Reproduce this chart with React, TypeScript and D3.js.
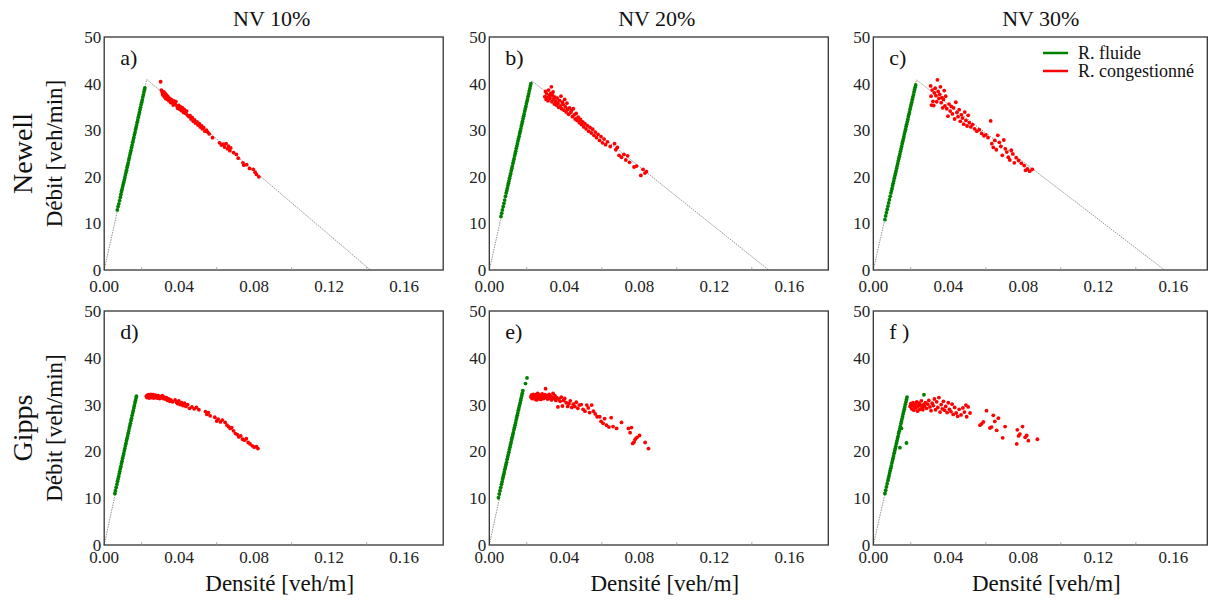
import React from "react";
import * as d3 from "d3";

type Pt = [number, number];

const columnTitles = ["NV 10%", "NV 20%", "NV 30%"];
const rowModels = ["Newell", "Gipps"];
const panelLetters = ["a)", "b)", "c)", "d)", "e)", "f )"];
const xTicks = [0, 0.04, 0.08, 0.12, 0.16];
const xTickLabels = ["0.00", "0.04", "0.08", "0.12", "0.16"];
const xMinorTicks = [0.02, 0.06, 0.1, 0.14];
const yTicks = [0, 10, 20, 30, 40, 50];
const legendLabels = ["R. fluide", "R. congestionné"];
const yLabel = "Débit [veh/min]";
const xLabel = "Densité [veh/m]";

// fundamental diagram (triangle) vertices [density, flow]
const newellFD10: Pt[] = [[0, 0], [0.0227, 40.9], [0.142, 0]];
const newellFD20: Pt[] = [[0, 0], [0.0227, 40.6], [0.149, 0]];
const newellFD30: Pt[] = [[0, 0], [0.023, 40.8], [0.1553, 0]];
const gippsFD10: Pt[] = [[0, 0], [0.0172, 31.8]];
const gippsFD20: Pt[] = [[0, 0], [0.0179, 33.0]];
const gippsFD30: Pt[] = [[0, 0], [0.018, 31.6]];

// ---- Newell 10% ----
const newell10Fluid: Pt[] = [[0.0070,12.9],[0.0074,13.6],[0.0078,14.2],[0.0082,14.9],[0.0086,15.6],[0.0089,16.2],[0.0092,16.8],[0.0095,17.3],[0.0098,17.8],[0.0101,18.3],[0.0104,18.8],[0.0107,19.3],[0.0110,19.8],[0.0113,20.4],[0.0116,20.9],[0.0119,21.4],[0.0122,22.0],[0.0125,22.5],[0.0128,23.0],[0.0131,23.6],[0.0134,24.1],[0.0137,24.7],[0.0140,25.2],[0.0143,25.7],[0.0146,26.3],[0.0149,26.8],[0.0152,27.4],[0.0155,27.9],[0.0158,28.4],[0.0161,29.0],[0.0164,29.5],[0.0167,30.1],[0.0170,30.6],[0.0173,31.1],[0.0176,31.7],[0.0179,32.2],[0.0182,32.8],[0.0185,33.3],[0.0188,33.8],[0.0191,34.4],[0.0194,34.9],[0.0197,35.5],[0.0200,36.0],[0.0203,36.5],[0.0206,37.1],[0.0209,37.6],[0.0212,38.2],[0.0215,38.7],[0.0217,39.1]];
const newell10Cong: Pt[] = [[0.0301,40.4],[0.0305,38.6],[0.0310,38.1],[0.0312,37.6],[0.0318,38.2],[0.0320,37.2],[0.0325,37.9],[0.0328,36.8],[0.0333,37.5],[0.0337,36.6],[0.0340,37.2],[0.0345,36.3],[0.0350,36.8],[0.0355,35.9],[0.0360,36.5],[0.0365,36.0],[0.0368,35.4],[0.0372,36.3],[0.0378,35.6],[0.0382,36.1],[0.0388,35.2],[0.0392,34.7],[0.0398,35.3],[0.0403,34.5],[0.0408,35.0],[0.0412,34.2],[0.0418,34.8],[0.0423,33.8],[0.0428,34.4],[0.0435,33.6],[0.0440,34.1],[0.0445,33.2],[0.0452,32.9],[0.0458,33.1],[0.0463,32.4],[0.0470,32.7],[0.0475,31.9],[0.0482,32.2],[0.0488,31.5],[0.0495,31.8],[0.0500,31.1],[0.0507,31.4],[0.0512,30.7],[0.0518,31.0],[0.0523,30.3],[0.0530,30.6],[0.0537,29.8],[0.0545,30.0],[0.0552,29.6],[0.0560,29.2],[0.0578,28.4],[0.0615,27.3],[0.0625,26.8],[0.0635,27.0],[0.0642,26.4],[0.0650,27.1],[0.0657,26.0],[0.0663,26.6],[0.0670,25.6],[0.0675,26.2],[0.0690,25.2],[0.0705,24.8],[0.0715,24.0],[0.0740,23.0],[0.0745,22.5],[0.0760,22.6],[0.0775,21.8],[0.0795,21.6],[0.0805,21.0],[0.0812,20.5],[0.0825,20.0]];

// ---- Newell 20% ----
const newell20Fluid: Pt[] = [[0.0062,11.5],[0.0066,12.2],[0.0070,12.9],[0.0074,13.6],[0.0078,14.3],[0.0082,15.0],[0.0086,15.8],[0.0090,16.5],[0.0093,17.0],[0.0096,17.5],[0.0099,18.1],[0.0102,18.6],[0.0105,19.1],[0.0108,19.7],[0.0111,20.2],[0.0114,20.7],[0.0117,21.3],[0.0120,21.8],[0.0123,22.3],[0.0126,22.9],[0.0129,23.4],[0.0132,23.9],[0.0135,24.5],[0.0138,25.0],[0.0141,25.5],[0.0144,26.1],[0.0147,26.6],[0.0150,27.1],[0.0153,27.7],[0.0156,28.2],[0.0159,28.7],[0.0162,29.3],[0.0165,29.8],[0.0168,30.3],[0.0171,30.9],[0.0174,31.4],[0.0177,31.9],[0.0180,32.5],[0.0183,33.0],[0.0186,33.5],[0.0189,34.1],[0.0192,34.6],[0.0195,35.1],[0.0198,35.7],[0.0201,36.2],[0.0204,36.7],[0.0207,37.3],[0.0210,37.8],[0.0213,38.4],[0.0216,38.9],[0.0219,39.5],[0.0222,40.0]];
const newell20Cong: Pt[] = [[0.0296,37.2],[0.0300,38.3],[0.0303,36.6],[0.0306,37.8],[0.0310,37.0],[0.0313,36.3],[0.0316,38.6],[0.0320,37.4],[0.0324,36.8],[0.0328,37.9],[0.0331,39.3],[0.0334,36.1],[0.0337,37.5],[0.0340,38.2],[0.0344,36.7],[0.0347,35.6],[0.0350,37.1],[0.0354,36.2],[0.0358,35.4],[0.0362,36.9],[0.0366,35.8],[0.0370,34.9],[0.0374,36.4],[0.0378,35.2],[0.0382,37.3],[0.0386,34.6],[0.0390,36.0],[0.0394,35.5],[0.0398,34.3],[0.0402,36.6],[0.0406,35.0],[0.0410,33.9],[0.0414,35.8],[0.0418,34.5],[0.0423,33.4],[0.0428,34.8],[0.0433,33.8],[0.0438,34.2],[0.0443,32.9],[0.0448,34.6],[0.0453,33.3],[0.0458,32.4],[0.0463,33.6],[0.0468,32.1],[0.0474,32.8],[0.0480,31.6],[0.0486,32.3],[0.0492,31.2],[0.0498,31.8],[0.0504,30.7],[0.0510,31.4],[0.0516,30.3],[0.0523,31.0],[0.0530,29.8],[0.0537,30.6],[0.0544,29.4],[0.0551,30.2],[0.0558,28.9],[0.0565,29.6],[0.0572,28.4],[0.0580,29.1],[0.0588,27.8],[0.0596,28.6],[0.0604,27.3],[0.0612,28.1],[0.0620,26.9],[0.0630,27.5],[0.0645,26.5],[0.0668,27.1],[0.0675,25.8],[0.0683,26.3],[0.0692,24.6],[0.0705,24.2],[0.0718,24.8],[0.0728,23.6],[0.0738,24.5],[0.0748,23.1],[0.0772,22.1],[0.0785,22.3],[0.0808,20.3],[0.0820,21.6],[0.0830,20.8],[0.0838,21.1]];

// ---- Newell 30% ----
const newell30Fluid: Pt[] = [[0.0062,10.8],[0.0066,11.6],[0.0070,12.3],[0.0074,13.0],[0.0078,13.7],[0.0082,14.4],[0.0086,15.1],[0.0090,15.8],[0.0094,16.5],[0.0097,17.0],[0.0100,17.5],[0.0103,18.1],[0.0106,18.6],[0.0109,19.1],[0.0112,19.7],[0.0115,20.2],[0.0118,20.7],[0.0121,21.2],[0.0124,21.8],[0.0127,22.3],[0.0130,22.8],[0.0133,23.4],[0.0136,23.9],[0.0139,24.4],[0.0142,24.9],[0.0145,25.5],[0.0148,26.0],[0.0151,26.5],[0.0154,27.1],[0.0157,27.6],[0.0160,28.1],[0.0163,28.6],[0.0166,29.2],[0.0169,29.7],[0.0172,30.2],[0.0175,30.8],[0.0178,31.3],[0.0181,31.8],[0.0184,32.3],[0.0187,32.9],[0.0190,33.4],[0.0193,33.9],[0.0196,34.5],[0.0199,35.0],[0.0202,35.5],[0.0205,36.0],[0.0208,36.6],[0.0211,37.1],[0.0214,37.6],[0.0217,38.2],[0.0220,38.7],[0.0223,39.2],[0.0226,39.7]];
const newell30Cong: Pt[] = [[0.0306,39.5],[0.0308,37.3],[0.0310,35.4],[0.0314,38.6],[0.0318,36.2],[0.0322,35.3],[0.0326,38.0],[0.0330,39.0],[0.0334,37.4],[0.0338,36.1],[0.0342,40.8],[0.0346,38.3],[0.0350,36.8],[0.0354,37.7],[0.0358,39.3],[0.0362,35.9],[0.0366,37.0],[0.0370,34.8],[0.0374,36.6],[0.0378,38.5],[0.0382,35.2],[0.0386,37.3],[0.0392,34.6],[0.0398,33.0],[0.0404,35.6],[0.0410,34.1],[0.0416,35.1],[0.0422,33.5],[0.0428,34.8],[0.0434,32.4],[0.0440,36.0],[0.0446,33.8],[0.0452,32.9],[0.0458,34.4],[0.0464,31.9],[0.0470,33.3],[0.0476,32.6],[0.0482,31.3],[0.0488,33.9],[0.0494,32.1],[0.0500,30.9],[0.0506,33.2],[0.0512,31.6],[0.0520,30.7],[0.0530,31.2],[0.0540,30.3],[0.0552,29.8],[0.0565,30.1],[0.0578,29.3],[0.0590,28.8],[0.0600,29.0],[0.0612,28.4],[0.0626,32.0],[0.0632,27.1],[0.0640,26.3],[0.0648,27.8],[0.0656,25.8],[0.0664,28.9],[0.0672,27.4],[0.0680,26.5],[0.0688,24.6],[0.0696,27.9],[0.0704,26.0],[0.0712,25.3],[0.0720,24.2],[0.0728,23.6],[0.0736,25.7],[0.0744,24.9],[0.0752,23.0],[0.0762,24.1],[0.0775,23.5],[0.0790,22.9],[0.0805,22.4],[0.0812,21.4],[0.0822,21.7],[0.0834,21.2],[0.0848,21.6]];

// ---- Gipps 10% ----
const gipps10Fluid: Pt[] = [[0.0057,11.0],[0.0060,11.6],[0.0064,12.3],[0.0068,13.0],[0.0071,13.6],[0.0074,14.1],[0.0077,14.6],[0.0080,15.2],[0.0083,15.7],[0.0086,16.3],[0.0089,16.8],[0.0092,17.4],[0.0095,17.9],[0.0098,18.5],[0.0101,19.0],[0.0104,19.5],[0.0107,20.1],[0.0110,20.6],[0.0113,21.2],[0.0116,21.7],[0.0119,22.3],[0.0122,22.8],[0.0125,23.3],[0.0128,23.9],[0.0131,24.4],[0.0134,25.0],[0.0137,25.5],[0.0140,26.0],[0.0143,26.6],[0.0146,27.1],[0.0149,27.7],[0.0152,28.2],[0.0155,28.7],[0.0158,29.3],[0.0161,29.8],[0.0164,30.4],[0.0167,30.9],[0.0170,31.4],[0.0172,31.8]];
const gipps10Cong: Pt[] = [[0.0225,31.8],[0.0228,31.5],[0.0231,32.0],[0.0234,31.6],[0.0237,32.1],[0.0240,31.4],[0.0243,31.9],[0.0246,31.7],[0.0249,32.2],[0.0252,31.5],[0.0255,31.9],[0.0258,31.6],[0.0261,32.1],[0.0264,31.4],[0.0267,31.8],[0.0270,31.6],[0.0273,32.0],[0.0276,31.5],[0.0280,31.8],[0.0284,31.4],[0.0288,31.9],[0.0292,31.6],[0.0296,31.3],[0.0300,31.7],[0.0305,31.5],[0.0310,31.9],[0.0315,31.3],[0.0320,31.6],[0.0326,31.2],[0.0332,31.5],[0.0338,30.9],[0.0344,31.2],[0.0350,30.7],[0.0356,31.0],[0.0365,30.6],[0.0378,31.0],[0.0386,30.5],[0.0392,30.2],[0.0398,30.8],[0.0405,30.0],[0.0412,30.4],[0.0420,29.8],[0.0428,30.3],[0.0436,29.6],[0.0445,30.0],[0.0455,29.2],[0.0468,29.5],[0.0480,29.1],[0.0492,29.4],[0.0505,28.9],[0.0540,28.5],[0.0548,27.9],[0.0556,28.3],[0.0565,27.6],[0.0590,27.3],[0.0600,26.5],[0.0608,26.9],[0.0620,26.3],[0.0630,26.7],[0.0645,26.2],[0.0655,25.6],[0.0663,25.3],[0.0672,24.9],[0.0680,25.1],[0.0690,24.4],[0.0700,23.8],[0.0710,23.6],[0.0718,23.1],[0.0728,23.3],[0.0738,22.6],[0.0748,22.4],[0.0758,22.7],[0.0768,21.9],[0.0778,21.6],[0.0790,21.2],[0.0800,20.9],[0.0812,21.0],[0.0820,20.6]];

// ---- Gipps 20% ----
const gipps20Fluid: Pt[] = [[0.0049,10.1],[0.0053,10.9],[0.0057,11.6],[0.0061,12.3],[0.0065,13.0],[0.0068,13.5],[0.0071,14.1],[0.0074,14.6],[0.0077,15.1],[0.0080,15.6],[0.0083,16.2],[0.0086,16.7],[0.0089,17.2],[0.0092,17.7],[0.0095,18.3],[0.0098,18.8],[0.0101,19.3],[0.0104,19.8],[0.0107,20.4],[0.0110,20.9],[0.0113,21.4],[0.0116,21.9],[0.0119,22.5],[0.0122,23.0],[0.0125,23.5],[0.0128,24.0],[0.0131,24.6],[0.0134,25.1],[0.0137,25.6],[0.0140,26.1],[0.0143,26.7],[0.0146,27.2],[0.0149,27.7],[0.0152,28.2],[0.0155,28.8],[0.0158,29.3],[0.0161,29.8],[0.0164,30.3],[0.0167,30.9],[0.0170,31.4],[0.0173,31.9],[0.0176,32.4],[0.0179,33.0],[0.0193,34.5],[0.0201,35.7]];
const gipps20Cong: Pt[] = [[0.0222,31.6],[0.0225,32.0],[0.0228,31.3],[0.0231,31.8],[0.0234,32.2],[0.0237,31.5],[0.0240,31.9],[0.0243,31.2],[0.0246,32.1],[0.0249,31.6],[0.0252,31.0],[0.0255,31.8],[0.0258,32.4],[0.0261,31.4],[0.0264,31.9],[0.0267,31.2],[0.0270,32.0],[0.0273,31.6],[0.0276,31.1],[0.0279,31.8],[0.0282,32.3],[0.0285,31.5],[0.0288,31.9],[0.0291,31.3],[0.0294,31.7],[0.0297,32.1],[0.0300,33.4],[0.0303,31.5],[0.0307,31.9],[0.0311,31.2],[0.0315,31.7],[0.0319,32.2],[0.0323,31.4],[0.0327,31.8],[0.0331,31.0],[0.0335,31.6],[0.0340,32.4],[0.0345,31.3],[0.0350,31.9],[0.0355,30.9],[0.0360,31.5],[0.0366,29.5],[0.0372,31.2],[0.0378,30.7],[0.0384,31.6],[0.0390,29.7],[0.0396,30.9],[0.0402,31.3],[0.0410,30.4],[0.0418,29.6],[0.0425,30.2],[0.0432,30.8],[0.0440,29.4],[0.0448,30.1],[0.0456,29.6],[0.0464,30.5],[0.0472,29.2],[0.0480,29.9],[0.0490,30.0],[0.0500,29.0],[0.0510,28.6],[0.0520,29.9],[0.0528,29.3],[0.0535,28.3],[0.0546,29.9],[0.0555,28.6],[0.0565,28.0],[0.0575,27.4],[0.0589,27.4],[0.0596,26.4],[0.0607,26.0],[0.0615,27.0],[0.0625,25.6],[0.0638,25.2],[0.0650,27.2],[0.0660,25.3],[0.0679,24.9],[0.0705,26.2],[0.0742,24.9],[0.0751,24.0],[0.0758,25.1],[0.0765,21.7],[0.0772,22.0],[0.0778,22.6],[0.0788,23.0],[0.0801,23.4],[0.0831,21.9],[0.0849,20.6]];

// ---- Gipps 30% ----
const gipps30Fluid: Pt[] = [[0.0062,11.0],[0.0066,11.7],[0.0070,12.4],[0.0074,13.1],[0.0078,13.8],[0.0081,14.3],[0.0084,14.8],[0.0087,15.4],[0.0090,15.9],[0.0093,16.4],[0.0096,16.9],[0.0099,17.5],[0.0102,18.0],[0.0105,18.5],[0.0108,19.0],[0.0111,19.6],[0.0114,20.1],[0.0117,20.6],[0.0120,21.1],[0.0123,21.7],[0.0126,22.2],[0.0129,22.7],[0.0132,23.2],[0.0135,23.8],[0.0138,24.3],[0.0141,24.8],[0.0144,25.3],[0.0147,25.9],[0.0150,26.4],[0.0153,26.9],[0.0156,27.4],[0.0159,28.0],[0.0162,28.5],[0.0165,29.0],[0.0168,29.5],[0.0171,30.1],[0.0174,30.6],[0.0177,31.1],[0.0180,31.6],[0.0142,20.8],[0.0150,24.9],[0.0177,21.8],[0.0270,32.1]];
const gipps30Cong: Pt[] = [[0.0196,29.6],[0.0200,30.2],[0.0204,29.1],[0.0208,29.8],[0.0212,30.4],[0.0216,28.8],[0.0220,29.5],[0.0224,30.1],[0.0228,29.3],[0.0232,30.6],[0.0236,28.6],[0.0240,29.7],[0.0244,30.3],[0.0248,29.0],[0.0252,29.9],[0.0256,30.8],[0.0260,29.4],[0.0264,28.9],[0.0268,30.0],[0.0272,29.6],[0.0278,30.4],[0.0284,29.2],[0.0290,30.1],[0.0296,30.9],[0.0302,29.5],[0.0308,28.7],[0.0314,30.3],[0.0320,29.8],[0.0326,31.2],[0.0332,28.9],[0.0338,30.6],[0.0344,29.4],[0.0350,31.5],[0.0356,28.4],[0.0362,30.0],[0.0368,29.1],[0.0374,30.7],[0.0380,28.8],[0.0386,29.6],[0.0394,28.3],[0.0400,30.4],[0.0406,29.0],[0.0414,28.5],[0.0420,30.1],[0.0426,27.9],[0.0434,29.4],[0.0442,28.2],[0.0450,27.5],[0.0458,29.0],[0.0468,27.8],[0.0478,29.3],[0.0486,28.4],[0.0494,29.9],[0.0498,27.4],[0.0506,29.5],[0.0516,28.2],[0.0569,25.6],[0.0578,25.9],[0.0587,26.3],[0.0604,28.7],[0.0622,25.0],[0.0631,25.2],[0.0640,27.7],[0.0648,26.4],[0.0658,24.5],[0.0667,27.1],[0.0690,22.9],[0.0703,25.3],[0.0765,21.6],[0.0768,24.6],[0.0775,23.3],[0.0782,23.7],[0.0796,25.3],[0.0810,23.0],[0.0818,23.4],[0.0827,22.3],[0.0875,22.6]];

const fluidSets = [newell10Fluid, newell20Fluid, newell30Fluid, gipps10Fluid, gipps20Fluid, gipps30Fluid];
const congSets = [newell10Cong, newell20Cong, newell30Cong, gipps10Cong, gipps20Cong, gipps30Cong];
const fdSets = [newellFD10, newellFD20, newellFD30, gippsFD10, gippsFD20, gippsFD30];

const FONT = "Liberation Serif, Times New Roman, DejaVu Serif, serif";
const GREEN = "#008000";
const RED = "#ff0000";
const PX_PER_UNIT = 1875;
const colX0 = [104.2, 489.3, 873.3];
const colW = [339, 339, 334];
const rowY0 = [37, 311];
const rowH = [233, 234];
const tickLabelDy = [22, 18];

const txt = (size: number) => ({ fontFamily: FONT, fontSize: size + "px" });

function Panel({ idx }: { idx: number }) {
  const col = idx % 3;
  const row = Math.floor(idx / 3);
  const x0 = colX0[col];
  const w = colW[col];
  const y0 = rowY0[row];
  const h = rowH[row];
  const x = d3.scaleLinear().domain([0, w / PX_PER_UNIT]).range([x0, x0 + w]);
  const y = d3.scaleLinear().domain([0, 50]).range([y0 + h, y0]);
  const line = d3.line<Pt>().x((d) => x(d[0])).y((d) => y(d[1]));
  return (
    <g>
      <path d={line(fdSets[idx]) || ""} fill="none" stroke="#666" strokeWidth={0.7} strokeDasharray="1.5,1" />
      {fluidSets[idx].map((d, i) => (
        <circle key={"g" + i} cx={x(d[0])} cy={y(d[1])} r={1.9} fill={GREEN} />
      ))}
      {congSets[idx].map((d, i) => (
        <circle key={"r" + i} cx={x(d[0])} cy={y(d[1])} r={1.9} fill={RED} />
      ))}
      <rect x={x0} y={y0} width={w} height={h} fill="none" stroke="#333" strokeWidth={1.3} />
      {xMinorTicks.map((t) => (
        <line key={"m" + t} x1={x(t)} x2={x(t)} y1={y0 + h} y2={y0 + h - 3} stroke="#999" strokeWidth={0.8} />
      ))}
      {xTicks.map((t, i) => (
        <text key={"x" + t} x={x(t)} y={y0 + h + tickLabelDy[row]} textAnchor="middle" style={txt(17)} fill="#222">
          {xTickLabels[i]}
        </text>
      ))}
      {yTicks.map((t) => (
        <text key={"y" + t} x={x0 - 3} y={y(t) + 6} textAnchor="end" style={txt(17)} fill="#222">
          {t}
        </text>
      ))}
      <text x={x0 + 16} y={y0 + 28} style={txt(22)} fill="#111">
        {panelLetters[idx]}
      </text>
    </g>
  );
}

export default function App() {
  const legendX = 1043;
  return (
    <svg width={1208} height={600} style={{ position: "absolute", left: 0, top: 0, background: "#fff" }}>
      <rect x={0} y={0} width={1208} height={600} fill="#fff" />
      {columnTitles.map((t, c) => (
        <text key={t} x={colX0[c] + 169.5 - 2} y={26} textAnchor="middle" style={txt(22)} fill="#111">
          {t}
        </text>
      ))}
      {rowModels.map((m, r) => {
        const cy = rowY0[r] + rowH[r] / 2;
        return (
          <g key={m}>
            <text transform={`translate(32,${cy}) rotate(-90)`} textAnchor="middle" style={txt(28)} fill="#111">
              {m}
            </text>
            <text transform={`translate(62,${cy}) rotate(-90)`} textAnchor="middle" style={txt(23)} fill="#111">
              {yLabel}
            </text>
          </g>
        );
      })}
      {[0, 1, 2, 3, 4, 5].map((i) => (
        <Panel key={i} idx={i} />
      ))}
      {colX0.map((cx, c) => (
        <text key={"xl" + c} x={cx + colW[c] / 2 + 6} y={591} textAnchor="middle" style={txt(23)} fill="#111">
          {xLabel}
        </text>
      ))}
      {legendLabels.map((l, i) => (
        <g key={l}>
          <line x1={legendX} x2={legendX + 25} y1={53 + i * 18} y2={53 + i * 18} stroke={i === 0 ? GREEN : RED} strokeWidth={2.5} />
          <text x={legendX + 35} y={53 + i * 18 + 6} style={txt(18)} fill="#111">
            {l}
          </text>
        </g>
      ))}
    </svg>
  );
}
